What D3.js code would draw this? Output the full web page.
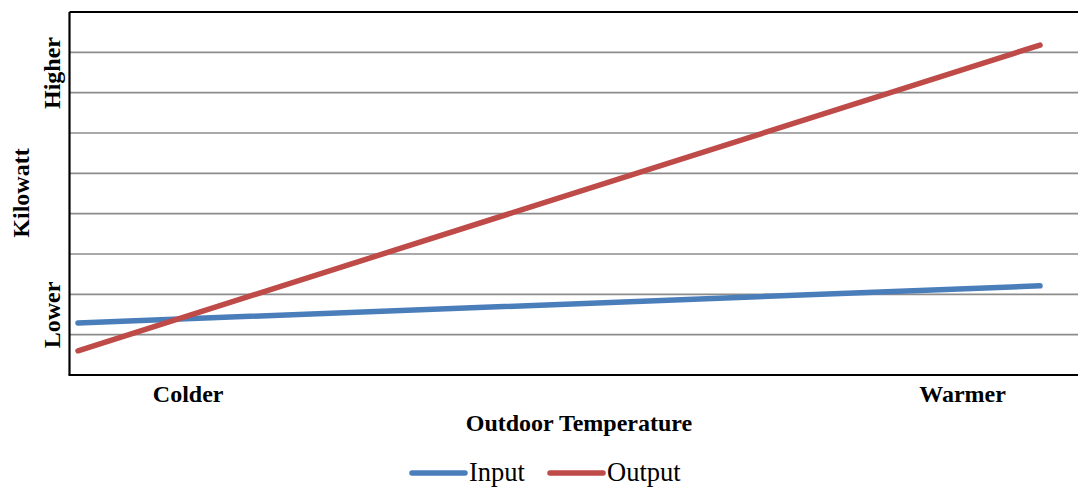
<!DOCTYPE html>
<html>
<head>
<meta charset="utf-8">
<script src="https://cdn.jsdelivr.net/npm/d3@7"></script>
<style>
  html, body { margin: 0; padding: 0; background: #fff; }
  svg { display: block; }
  text { font-family: "Liberation Serif", "Times New Roman", serif; fill: #000; }
</style>
</head>
<body>
<svg id="chart" width="1078" height="487"></svg>
<script>
// Relative temperature position along the x axis
const temps = [0, 10];
// Power in relative units (0 = bottom of plot, 9 = top)
const inputKw = [1.29, 2.21];
const outputKw = [0.60, 8.18];
// Axis labels placed at relative positions
const xTickValues = [1.14, 9.19];
const xTickLabels = ["Colder", "Warmer"];
const yTickValues = [1.5, 7.5];
const yTickLabels = ["Lower", "Higher"];
const gridValues = [1, 2, 3, 4, 5, 6, 7, 8];
const seriesNames = ["Input", "Output"];
const seriesColors = ["#4a7ebb", "#be4b48"];

const svg = d3.select("#chart");
const plot = { left: 69.5, right: 1080, top: 12, bottom: 375 };

const x = d3.scaleLinear().domain([0, 10]).range([78, 1040]);
const y = d3.scaleLinear().domain([0, 9]).range([plot.bottom, plot.top]);

// Horizontal gridlines
svg.append("g")
  .selectAll("line")
  .data(gridValues)
  .join("line")
  .attr("x1", plot.left)
  .attr("x2", plot.right)
  .attr("y1", d => y(d))
  .attr("y2", d => y(d))
  .attr("stroke", "#8c8c8c")
  .attr("stroke-width", 1.6);

// Plot frame: top edge
svg.append("line")
  .attr("x1", plot.left).attr("x2", plot.right)
  .attr("y1", plot.top).attr("y2", plot.top)
  .attr("stroke", "#000").attr("stroke-width", 2.2);

// Y axis with rotated Lower / Higher labels
const yAxis = d3.axisLeft(y)
  .tickValues(yTickValues)
  .tickSize(0)
  .tickPadding(0)
  .tickFormat((d, i) => yTickLabels[i]);
const gy = svg.append("g")
  .attr("transform", `translate(${plot.left},0)`)
  .call(yAxis);
gy.select(".domain").attr("stroke", "#000").attr("stroke-width", 2.2)
  .attr("d", `M0,${plot.top}V${plot.bottom}`);
gy.selectAll(".tick text")
  .attr("x", null).attr("dy", null)
  .attr("transform", "translate(-9.5,0) rotate(-90)")
  .attr("text-anchor", "middle")
  .style("font-family", "'Liberation Serif', serif")
  .style("font-size", "24px")
  .style("font-weight", "bold")
  .style("fill", "#000");

// X axis with Colder / Warmer labels
const xAxis = d3.axisBottom(x)
  .tickValues(xTickValues)
  .tickSize(0)
  .tickPadding(0)
  .tickFormat((d, i) => xTickLabels[i]);
const gx = svg.append("g")
  .attr("transform", `translate(0,${plot.bottom})`)
  .call(xAxis);
gx.select(".domain").attr("stroke", "#000").attr("stroke-width", 2.2)
  .attr("d", `M${plot.left - 1},0H${plot.right}`);
gx.selectAll(".tick text")
  .attr("y", 27).attr("dy", null)
  .style("font-family", "'Liberation Serif', serif")
  .style("font-size", "24px")
  .style("font-weight", "bold")
  .style("fill", "#000");

// Axis titles
svg.append("text")
  .attr("x", 579).attr("y", 431)
  .attr("text-anchor", "middle")
  .style("font-size", "24px").style("font-weight", "bold")
  .text("Outdoor Temperature");

svg.append("text")
  .attr("transform", "translate(29,193) rotate(-90)")
  .attr("text-anchor", "middle")
  .style("font-size", "24px").style("font-weight", "bold")
  .text("Kilowatt");

// Series lines
const line = d3.line().x((d, i) => x(temps[i])).y(d => y(d));
[inputKw, outputKw].forEach((vals, k) => {
  svg.append("path")
    .datum(vals)
    .attr("d", line)
    .attr("fill", "none")
    .attr("stroke", seriesColors[k])
    .attr("stroke-width", 5.5)
    .attr("stroke-linecap", "round");
});

// Legend
const legendX = [412, 550];
const legend = svg.append("g");
seriesNames.forEach((name, k) => {
  const g = legend.append("g").attr("transform", `translate(${legendX[k]},473)`);
  g.append("line")
    .attr("x1", 0).attr("x2", 53)
    .attr("y1", 0).attr("y2", 0)
    .attr("stroke", seriesColors[k])
    .attr("stroke-width", 5.5)
    .attr("stroke-linecap", "round");
  g.append("text")
    .attr("x", 57).attr("y", 8)
    .style("font-size", "26.5px")
    .text(name);
});
</script>
</body>
</html>
